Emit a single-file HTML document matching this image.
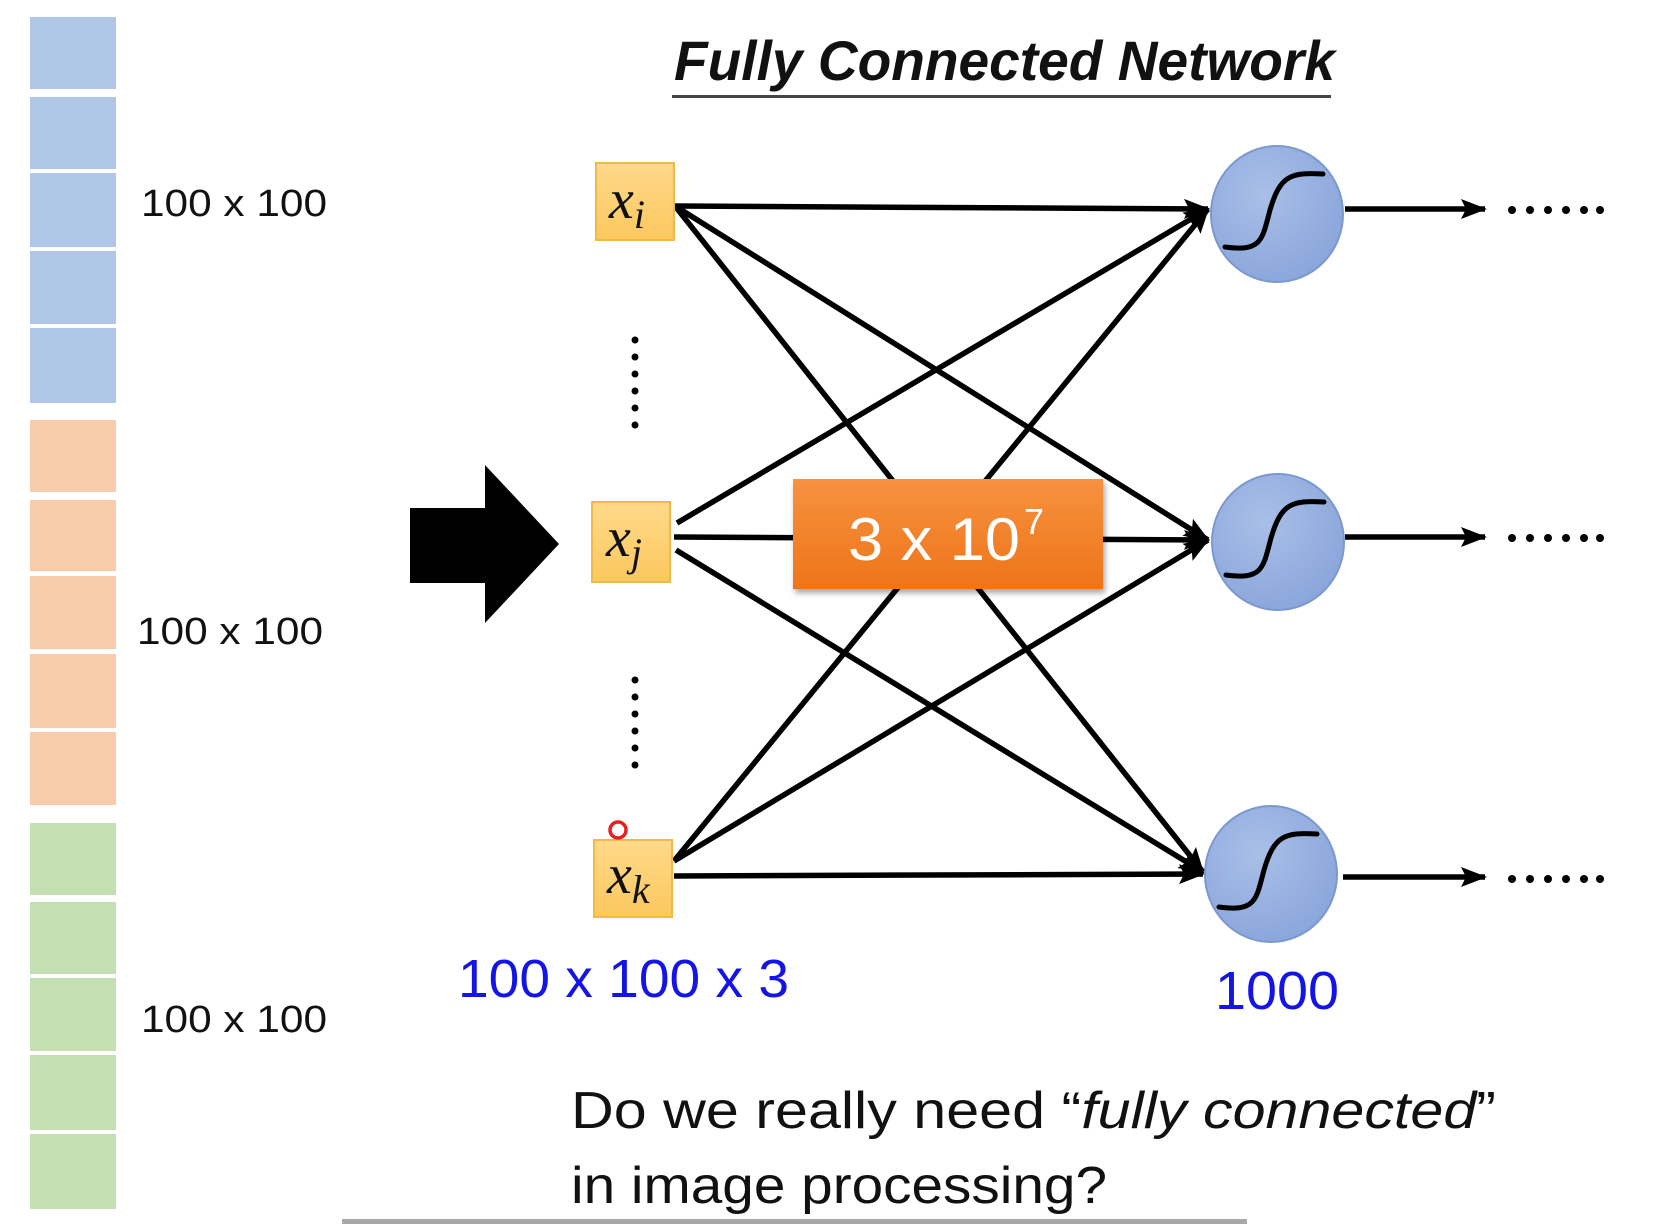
<!DOCTYPE html>
<html><head><meta charset="utf-8"><style>
html,body{margin:0;padding:0;background:#fff;}
svg{display:block}
</style></head><body>
<svg width="1677" height="1224" viewBox="0 0 1677 1224" xmlns="http://www.w3.org/2000/svg">
<defs>
<radialGradient id="cg" cx="40%" cy="35%" r="70%"><stop offset="0" stop-color="#a9bfe8"/><stop offset="1" stop-color="#8aa5db"/></radialGradient>
<linearGradient id="og" x1="0" y1="0" x2="0" y2="1"><stop offset="0" stop-color="#f7923f"/><stop offset="1" stop-color="#ee741a"/></linearGradient>
<linearGradient id="yg" x1="0" y1="0" x2="0" y2="1"><stop offset="0" stop-color="#ffd98a"/><stop offset="1" stop-color="#fcc85e"/></linearGradient>
<filter id="sh" x="-10%" y="-10%" width="130%" height="140%"><feDropShadow dx="2" dy="4" stdDeviation="3" flood-color="#000" flood-opacity="0.35"/></filter>
<marker id="ah" markerWidth="26" markerHeight="20" refX="24" refY="10" orient="auto" markerUnits="userSpaceOnUse" viewBox="0 0 26 20"><path d="M0,0 L26,10 L0,20 L5,10 z" fill="#000"/></marker>
</defs>

<g fill="#b0c6e6">
<rect x="30" y="17" width="86" height="72"/><rect x="30" y="97" width="86" height="72"/><rect x="30" y="173" width="86" height="74"/><rect x="30" y="251" width="86" height="73"/><rect x="30" y="328" width="86" height="75"/>
</g>
<g fill="#f8cbab">
<rect x="30" y="420" width="86" height="72"/><rect x="30" y="500" width="86" height="71"/><rect x="30" y="576" width="86" height="73"/><rect x="30" y="654" width="86" height="74"/><rect x="30" y="732" width="86" height="73"/>
</g>
<g fill="#c4dfb2">
<rect x="30" y="823" width="86" height="72"/><rect x="30" y="902" width="86" height="72"/><rect x="30" y="978" width="86" height="73"/><rect x="30" y="1055" width="86" height="75"/><rect x="30" y="1134" width="86" height="75"/>
</g>
<g font-family="Liberation Sans, sans-serif" font-size="38" fill="#111">
<text x="141" y="216" textLength="186" lengthAdjust="spacingAndGlyphs">100 x 100</text>
<text x="137" y="644" textLength="186" lengthAdjust="spacingAndGlyphs">100 x 100</text>
<text x="141" y="1032" textLength="186" lengthAdjust="spacingAndGlyphs">100 x 100</text>
</g>

<text x="674" y="80" font-family="Liberation Sans, sans-serif" font-weight="bold" font-style="italic" font-size="56" fill="#111" textLength="661" lengthAdjust="spacingAndGlyphs">Fully Connected Network</text>
<rect x="672" y="95" width="659" height="3" fill="#444"/>

<path d="M410,508 L485,508 L485,465 L559,544 L485,623 L485,583 L410,583 z" fill="#000"/>

<g stroke="#000" stroke-width="5.5" fill="none" marker-end="url(#ah)">
<line x1="675" y1="206" x2="1208" y2="209"/>
<line x1="675" y1="206" x2="1208" y2="540"/>
<line x1="675" y1="206" x2="1203" y2="872"/>
<line x1="677" y1="523" x2="1208" y2="209"/>
<line x1="674" y1="537" x2="1208" y2="540"/>
<line x1="676" y1="550" x2="1203" y2="872"/>
<line x1="674" y1="861" x2="1208" y2="209"/>
<line x1="674" y1="861" x2="1208" y2="540"/>
<line x1="674" y1="876" x2="1203" y2="874"/>
<line x1="1345" y1="209" x2="1485" y2="209"/>
<line x1="1345" y1="537" x2="1485" y2="537"/>
<line x1="1343" y1="877" x2="1485" y2="877"/>
</g>

<g fill="#000">
<circle cx="1512" cy="210" r="4"/><circle cx="1530" cy="210" r="4"/><circle cx="1548" cy="210" r="4"/><circle cx="1566" cy="210" r="4"/><circle cx="1584" cy="210" r="4"/><circle cx="1600" cy="210" r="4"/>
<circle cx="1512" cy="538" r="4"/><circle cx="1530" cy="538" r="4"/><circle cx="1548" cy="538" r="4"/><circle cx="1566" cy="538" r="4"/><circle cx="1584" cy="538" r="4"/><circle cx="1600" cy="538" r="4"/>
<circle cx="1512" cy="879" r="4"/><circle cx="1530" cy="879" r="4"/><circle cx="1548" cy="879" r="4"/><circle cx="1566" cy="879" r="4"/><circle cx="1584" cy="879" r="4"/><circle cx="1600" cy="879" r="4"/>
<circle cx="635" cy="340" r="3.5"/><circle cx="635" cy="357" r="3.5"/><circle cx="635" cy="374" r="3.5"/><circle cx="635" cy="391" r="3.5"/><circle cx="635" cy="408" r="3.5"/><circle cx="635" cy="425" r="3.5"/>
<circle cx="635" cy="680" r="3.5"/><circle cx="635" cy="697" r="3.5"/><circle cx="635" cy="714" r="3.5"/><circle cx="635" cy="731" r="3.5"/><circle cx="635" cy="748" r="3.5"/><circle cx="635" cy="765" r="3.5"/>
</g>

<g stroke="#7b98cf" stroke-width="2" fill="url(#cg)">
<ellipse cx="1277" cy="214" rx="66" ry="68"/>
<ellipse cx="1278" cy="542" rx="66" ry="68"/>
<ellipse cx="1271" cy="874" rx="66" ry="68"/>
</g>
<g stroke="#000" stroke-width="5" fill="none" stroke-linecap="round">
<path d="M1225,247 C1262,252 1262,240 1270,210 C1280,176 1290,172 1323,174"/>
<path d="M1226,575 C1263,580 1263,568 1271,538 C1281,504 1291,500 1324,502"/>
<path d="M1219,907 C1256,912 1256,900 1264,870 C1274,836 1284,832 1317,834"/>
</g>

<g stroke="#f2b84a" stroke-width="2" fill="url(#yg)">
<rect x="596" y="163" width="78" height="77"/>
<rect x="592" y="502" width="78" height="80"/>
<rect x="594" y="840" width="78" height="77"/>
</g>
<g font-family="Liberation Serif, serif" font-style="italic" fill="#111">
<text x="609" y="218" font-size="56">x<tspan font-size="40" dy="10">i</tspan></text>
<text x="606" y="556" font-size="56">x<tspan font-size="40" dy="10">j</tspan></text>
<text x="607" y="893" font-size="56">x<tspan font-size="40" dy="10">k</tspan></text>
</g>

<circle cx="618" cy="830" r="8" fill="none" stroke="#e82020" stroke-width="3.5"/>

<rect x="793" y="479" width="310" height="110" fill="url(#og)" filter="url(#sh)"/>
<text x="848" y="560" font-family="Liberation Sans, sans-serif" font-size="60" fill="#fff" textLength="172" lengthAdjust="spacingAndGlyphs">3 x 10</text>
<text x="1024" y="534" font-family="Liberation Sans, sans-serif" font-size="36" fill="#fff">7</text>

<g font-family="Liberation Sans, sans-serif" font-size="54" fill="#1414e6">
<text x="458" y="997" textLength="331" lengthAdjust="spacingAndGlyphs">100 x 100 x 3</text>
<text x="1215" y="1009" textLength="124" lengthAdjust="spacingAndGlyphs">1000</text>
</g>

<g font-family="Liberation Sans, sans-serif" font-size="52" fill="#111">
<text x="571" y="1128" textLength="925" lengthAdjust="spacingAndGlyphs">Do we really need “<tspan font-style="italic">fully connected</tspan>”</text>
<text x="571" y="1203" textLength="536" lengthAdjust="spacingAndGlyphs">in image processing?</text>
</g>
<rect x="342" y="1219" width="905" height="5" fill="#a8a8a8"/>
</svg>
</body></html>
